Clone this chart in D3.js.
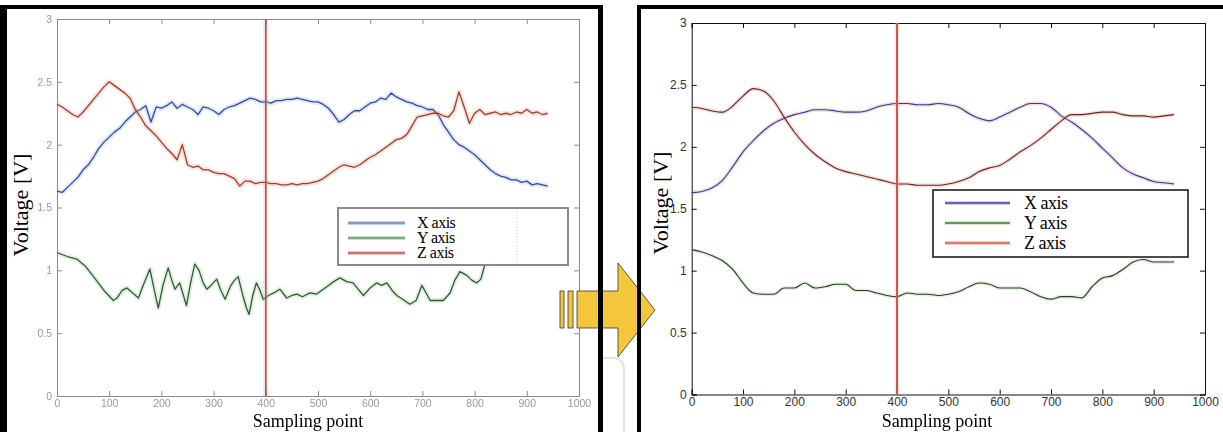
<!DOCTYPE html>
<html><head><meta charset="utf-8">
<script src="https://cdn.jsdelivr.net/npm/d3@7"></script>
<style>body{margin:0;background:#fff}svg{display:block}</style>
</head><body>
<svg id="c" width="1223" height="432"></svg>
<script>
// ---------- data ----------
const xTicks = [0,100,200,300,400,500,600,700,800,900,1000];
const yTicks = [0,0.5,1,1.5,2,2.5,3];
const yTickLabels = ["0","0.5","1","1.5","2","2.5","3"];
const seriesNames = ["X axis","Y axis","Z axis"];
const markerSample = 400;

// left (raw) chart, every 10 samples
const leftSamples = d3.range(0, 950, 10);
const leftX = [1.63,1.62,1.66,1.70,1.74,1.80,1.84,1.90,1.97,2.02,2.06,2.10,2.13,2.18,2.22,2.26,2.28,2.31,2.18,2.30,
 2.29,2.31,2.34,2.29,2.32,2.30,2.28,2.24,2.30,2.29,2.27,2.24,2.28,2.30,2.31,2.33,2.35,2.37,2.36,2.34,
 2.34,2.33,2.35,2.35,2.36,2.36,2.37,2.36,2.35,2.34,2.34,2.32,2.29,2.24,2.18,2.20,2.24,2.27,2.27,2.30,
 2.33,2.34,2.37,2.36,2.41,2.38,2.36,2.34,2.33,2.31,2.30,2.28,2.28,2.24,2.16,2.10,2.04,2.00,1.98,1.95,
 1.92,1.88,1.84,1.80,1.77,1.75,1.74,1.72,1.72,1.70,1.71,1.68,1.69,1.68,1.67];
const leftZ = [2.32,2.30,2.27,2.24,2.22,2.26,2.31,2.36,2.41,2.46,2.50,2.47,2.44,2.41,2.37,2.28,2.22,2.15,2.11,2.07,
 2.02,1.97,1.93,1.88,2.00,1.84,1.82,1.83,1.80,1.80,1.78,1.77,1.77,1.75,1.73,1.67,1.71,1.71,1.69,1.70,
 1.70,1.69,1.69,1.68,1.68,1.69,1.68,1.69,1.69,1.70,1.71,1.73,1.76,1.79,1.82,1.84,1.83,1.82,1.84,1.87,
 1.90,1.92,1.95,1.98,2.01,2.04,2.05,2.08,2.15,2.22,2.23,2.24,2.25,2.25,2.23,2.22,2.27,2.42,2.30,2.17,
 2.25,2.28,2.24,2.25,2.26,2.24,2.25,2.24,2.26,2.25,2.28,2.25,2.26,2.24,2.25];
const leftYSamples = [0,20,38,55,70,90,108,115,125,134,145,156,165,178,186,194,203,213,220,226,235,248,256,264,272,280,287,295,306,314,322,333,340,347,356,363,368,375,382,389,395,405,415,427,440,450,460,470,485,497,510,520,530,542,555,567,577,587,600,612,622,632,642,651,662,676,688,699,707,715,728,740,753,762,772,785,795,804,812,820];
const leftY = [1.14,1.11,1.09,1.03,0.95,0.84,0.76,0.78,0.84,0.86,0.82,0.78,0.88,1.01,0.85,0.70,0.88,1.02,0.92,0.85,0.90,0.72,0.90,1.05,1.00,0.90,0.85,0.88,0.93,0.84,0.77,0.88,0.92,0.95,0.80,0.70,0.65,0.80,0.90,0.84,0.77,0.80,0.82,0.85,0.78,0.80,0.81,0.79,0.82,0.81,0.85,0.88,0.91,0.94,0.91,0.90,0.85,0.80,0.86,0.90,0.88,0.90,0.84,0.80,0.77,0.73,0.76,0.88,0.82,0.76,0.76,0.76,0.82,0.92,0.99,0.96,0.92,0.90,0.93,1.05];

// right (filtered) chart, every 20 samples
const rightSamples = d3.range(0, 950, 20);
const rightX = [1.63,1.64,1.67,1.73,1.84,1.96,2.05,2.13,2.19,2.23,2.26,2.28,2.30,2.30,2.29,2.28,2.28,2.29,2.32,2.34,
 2.35,2.35,2.34,2.34,2.35,2.34,2.32,2.27,2.23,2.21,2.24,2.28,2.32,2.35,2.35,2.32,2.25,2.20,2.14,2.07,
 1.99,1.91,1.83,1.78,1.75,1.72,1.71,1.70];
const rightY = [1.17,1.15,1.12,1.08,1.01,0.90,0.82,0.81,0.81,0.86,0.86,0.90,0.86,0.87,0.89,0.89,0.84,0.84,0.82,0.80,
 0.79,0.82,0.81,0.81,0.80,0.81,0.83,0.87,0.90,0.89,0.86,0.86,0.86,0.83,0.79,0.77,0.79,0.79,0.78,0.87,
 0.94,0.96,1.01,1.07,1.09,1.07,1.07,1.07];
const rightZ = [2.32,2.31,2.29,2.28,2.33,2.41,2.47,2.45,2.37,2.24,2.12,2.02,1.94,1.88,1.83,1.80,1.78,1.76,1.74,1.72,
 1.70,1.70,1.69,1.69,1.69,1.70,1.72,1.75,1.80,1.83,1.85,1.90,1.96,2.01,2.07,2.14,2.21,2.26,2.26,2.27,
 2.28,2.28,2.26,2.25,2.25,2.24,2.25,2.26];

// ---------- drawing ----------
const svg = d3.select("#c");
const defs = svg.append("defs");
defs.append("filter").attr("id","blur").attr("x","-5%").attr("y","-5%").attr("width","110%").attr("height","110%")
  .append("feGaussianBlur").attr("stdDeviation",0.6);

svg.append("rect").attr("width",1223).attr("height",432).attr("fill","#fff");

// faint watermark shape between panels
svg.append("path").attr("d","M598,358 H612 Q624,358 624,370 V432").attr("fill","none").attr("stroke","#e2e2e2").attr("stroke-width",2);

function chart(opt){
  const g = svg.append("g");
  const x = d3.scaleLinear().domain([0,1000]).range([opt.x0,opt.x1]);
  const y = d3.scaleLinear().domain([0,3]).range([opt.y0,opt.y1]);
  const ax = g.append("g").attr("filter", opt.blur ? "url(#blur)" : null);
  const fmtY = d => yTickLabels[yTicks.indexOf(d)];
  const styleAxis = sel => {
    sel.select(".domain").attr("stroke",opt.axisColor).attr("stroke-width",1);
    sel.selectAll(".tick line").attr("stroke",opt.axisColor);
    sel.selectAll(".tick text").attr("fill",opt.labelColor).attr("font-family","Liberation Sans, Arial, sans-serif").attr("font-size",opt.tickFont);
  };
  ax.append("g").attr("transform",`translate(0,${opt.y0})`)
    .call(d3.axisBottom(x).tickValues(xTicks).tickSize(-5).tickPadding(opt.xPad).tickFormat(d3.format("d"))).call(styleAxis);
  ax.append("g").attr("transform",`translate(0,${opt.y1})`)
    .call(d3.axisTop(x).tickValues(xTicks).tickSize(-5).tickFormat("")).call(styleAxis);
  ax.append("g").attr("transform",`translate(${opt.x0},0)`)
    .call(d3.axisLeft(y).tickValues(yTicks).tickSize(-5).tickPadding(opt.yPad).tickFormat(fmtY)).call(styleAxis);
  ax.append("g").attr("transform",`translate(${opt.x1},0)`)
    .call(d3.axisRight(y).tickValues(yTicks).tickSize(-5).tickFormat("")).call(styleAxis);

  const lines = g.append("g").attr("filter", opt.blur ? "url(#blur)" : null);
  opt.series.forEach(s=>{
    const pts = s.samples.map((t,i)=>[t,s.values[i]]);
    const line = d3.line().x(d=>x(d[0])).y(d=>y(d[1])).curve(opt.curve);
    lines.append("path").datum(pts).attr("d",line).attr("fill","none")
      .attr("stroke",s.halo).attr("stroke-width",opt.haloW).attr("stroke-opacity",opt.haloOp).attr("stroke-linejoin","round");
    lines.append("path").datum(pts).attr("d",line).attr("fill","none")
      .attr("stroke",s.core).attr("stroke-width",opt.coreW).attr("stroke-linejoin","round");
  });
  // marker line at sample 400
  lines.append("line").attr("x1",x(markerSample)).attr("x2",x(markerSample)).attr("y1",y(3)).attr("y2",y(0))
    .attr("stroke",opt.markHalo).attr("stroke-width",5).attr("stroke-opacity",0.3);
  lines.append("line").attr("x1",x(markerSample)).attr("x2",x(markerSample)).attr("y1",y(3)).attr("y2",y(0))
    .attr("stroke",opt.markColor).attr("stroke-width",opt.markW);

  // legend
  const L = opt.legend;
  const lg = g.append("g");
  lg.append("rect").attr("x",L.x).attr("y",L.y).attr("width",L.w).attr("height",L.h)
    .attr("fill","#fff").attr("stroke",L.stroke).attr("stroke-width",L.sw);
  if (L.dotted) lg.append("line").attr("x1",L.dotted).attr("x2",L.dotted).attr("y1",L.y+4).attr("y2",L.y+L.h-4)
    .attr("stroke","#ccc").attr("stroke-dasharray","1,2");
  seriesNames.forEach((n,i)=>{
    const yy = L.y + L.row0 + i*L.dy;
    lg.append("line").attr("x1",L.lx0).attr("x2",L.lx1).attr("y1",yy).attr("y2",yy)
      .attr("stroke",opt.series[i].halo).attr("stroke-width",4).attr("stroke-opacity",0.45);
    lg.append("line").attr("x1",L.lx0).attr("x2",L.lx1).attr("y1",yy).attr("y2",yy)
      .attr("stroke",L.colors[i]).attr("stroke-width",1.4);
    lg.append("text").attr("x",L.tx).attr("y",yy+L.base).text(n)
      .attr("font-family","Liberation Serif, Times New Roman, serif").attr("font-size",L.font)
      .attr("letter-spacing","-0.5").attr("fill","#000");
  });

  // axis titles
  g.append("text").attr("transform",`translate(${opt.ylx},${opt.yly}) rotate(-90)`).attr("text-anchor","middle")
    .attr("font-family","Liberation Serif, Times New Roman, serif").attr("font-size",22).attr("fill","#000").text("Voltage [V]");
  g.append("text").attr("x",opt.xlx).attr("y",427).attr("text-anchor","middle")
    .attr("font-family","Liberation Serif, Times New Roman, serif").attr("font-size",18).attr("fill","#000").text("Sampling point");
}

chart({
  x0:57, x1:579, y0:396, y1:19, blur:true,
  axisColor:"#8c8c8c", labelColor:"#9a9a9a", tickFont:10.5, xPad:4, yPad:5,
  curve:d3.curveLinear, haloW:5, haloOp:0.22, coreW:1.3,
  markColor:"#a4574f", markHalo:"#e0a098", markW:1.6,
  series:[
    {samples:leftSamples, values:leftX, core:"#2f4f9a", halo:"#6f95e0"},
    {samples:leftYSamples, values:leftY, core:"#2e5a30", halo:"#7cc47a"},
    {samples:leftSamples, values:leftZ, core:"#9a4030", halo:"#f07a60"}
  ],
  legend:{x:338,y:208,w:230,h:57,stroke:"#8a8a8a",sw:2,row0:15,dy:15,lx0:348,lx1:405,tx:417,base:5,font:16,
    colors:["#7d84b8","#5f9a6c","#a86262"], dotted:517},
  ylx:28, yly:205, xlx:308
});

chart({
  x0:691.7, x1:1205, y0:394.5, y1:23, blur:false,
  axisColor:"#111", labelColor:"#333", tickFont:12, xPad:3, yPad:5,
  curve:d3.curveMonotoneX, haloW:4, haloOp:0.28, coreW:1.1,
  markColor:"#c25a52", markHalo:"#f0a8a0", markW:2,
  series:[
    {samples:rightSamples, values:rightX, core:"#2c3f9a", halo:"#e07a8a"},
    {samples:rightSamples, values:rightY, core:"#2a3a2a", halo:"#9ad08a"},
    {samples:rightSamples, values:rightZ, core:"#5a2a2a", halo:"#f08070"}
  ],
  legend:{x:933,y:190,w:255,h:67,stroke:"#111",sw:1.5,row0:13,dy:20,lx0:945,lx1:1010,tx:1024,base:6,font:18,
    colors:["#3048b0","#3f7a45","#d0605a"]},
  ylx:668, yly:203, xlx:937
});

// arrow between the panels
const arrow = svg.append("g");
arrow.append("rect").attr("x",560).attr("y",291).attr("width",4).attr("height",37).attr("fill","#f3c63c").attr("stroke","#333").attr("stroke-width",0.8);
arrow.append("rect").attr("x",568).attr("y",291).attr("width",5).attr("height",37).attr("fill","#f3c63c").attr("stroke","#333").attr("stroke-width",0.8);
arrow.append("path").attr("d","M577,291 H618 V263 L655,310 L618,357 V328 H577 Z").attr("fill","#f3c63c").attr("stroke","#333").attr("stroke-width",0.8);

// panel frames (drawn above arrow)
svg.append("rect").attr("x",0).attr("y",5).attr("width",7).attr("height",427).attr("fill","#000");
svg.append("rect").attr("x",0).attr("y",5).attr("width",603).attr("height",4).attr("fill","#000");
svg.append("rect").attr("x",598).attr("y",5).attr("width",5).attr("height",427).attr("fill","#000");
svg.append("rect").attr("x",637).attr("y",5).attr("width",586).attr("height",4).attr("fill","#000");
svg.append("rect").attr("x",637).attr("y",5).attr("width",4).attr("height",427).attr("fill","#000");
</script>
</body></html>
